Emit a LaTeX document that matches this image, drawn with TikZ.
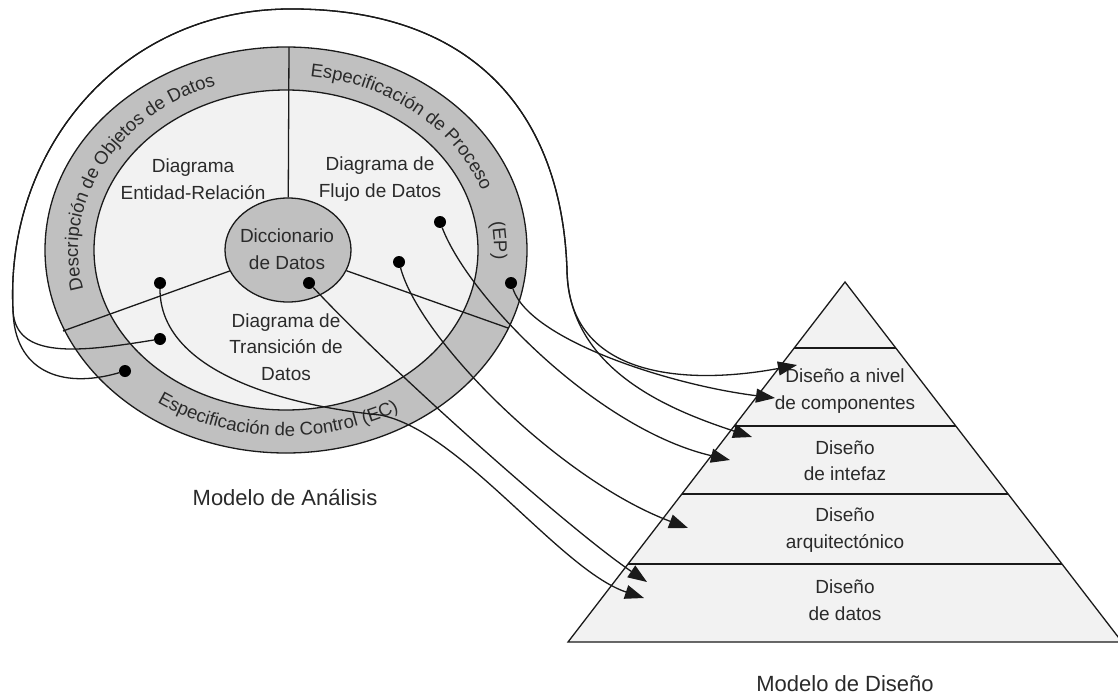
\documentclass[tikz,border=0pt]{standalone}
\usepackage{fontspec}
\setmainfont{Liberation Sans}
\usetikzlibrary{shapes.geometric, arrows.meta, decorations.text, calc}

\definecolor{ringgray}{HTML}{C0C0C0}
\definecolor{paleface}{HTML}{F2F2F2}
\definecolor{inkline}{HTML}{1A1A1A}
\definecolor{inktext}{HTML}{2A2A2A}

\newcommand\arcfont{\fontsize{18.5}{20}\selectfont\color{inktext}}

\begin{document}
\begin{tikzpicture}[x=1pt, y=-1pt,
  outline/.style={draw=inkline, line width=1.3pt},
  wire/.style={draw=inkline, line width=1.3pt},
  txt/.style={text=inktext, font=\fontsize{19}{26.5}\selectfont, align=center, inner sep=0},
  heading/.style={text=inktext, font=\fontsize{22}{26}\selectfont, inner sep=0},
  blob/.style={circle, fill=black, inner sep=0, minimum size=12},
  flow/.style={draw=inkline, line width=1.3pt, -{Triangle[length=19pt, width=14pt]}},
]
\useasboundingbox (0,0) rectangle (1118,695);

% ---------- analysis model: rings ----------
\coordinate (rc) at (286,250);
\draw[outline, fill=ringgray] (rc) ellipse [x radius=241, y radius=203];
\draw[outline, fill=paleface] (rc) ellipse [x radius=192, y radius=160];

\node[ellipse, outline, fill=ringgray, minimum width=126, minimum height=104, inner sep=0] (dict) at (288,250) {};

% sector dividers
\coordinate (rtop) at (289,47);
\coordinate (rleft) at (63,331);
\coordinate (rright) at (508,328);
\draw[wire] (dict) -- (rtop);
\draw[wire] (dict) -- (rleft);
\draw[wire] (dict) -- (rright);

% texts along the ring
\path[decorate, decoration={text along path, text align=center,
    text={|\arcfont|Descripción de Objetos de Datos}}]
  plot[domain=150:265, samples=90] ({286+208*cos(\x)}, {250+175*sin(\x)});
\path[decorate, decoration={text along path, text align=center,
    text={|\arcfont|Especificación de Proceso}}]
  plot[domain=-100:0, samples=90] ({286+208*cos(\x)}, {250+175*sin(\x)});
\path[decorate, decoration={text along path, text align=center,
    text={|\arcfont|(EP)}}]
  plot[domain=-20:14, samples=40] ({286+208*cos(\x)}, {250+175*sin(\x)});
\path[decorate, decoration={text along path, text align=center,
    text={|\arcfont|Especificación de Control (EC)}}]
  plot[domain=-140:-45, samples=90] ({286+224*cos(\x)}, {250-186*sin(\x)});

% sector labels
\node[txt] (er)  at (193,179) {Diagrama\\Entidad-Relación};
\node[txt] (dfd) at (380,179) {Diagrama de\\Flujo de Datos};
\node[txt] (dd)  at (287,249) {Diccionario\\de Datos};
\node[txt] (dte) at (286,347) {Diagrama de\\Transición de\\Datos};
\node[heading] (ma) at (285,498) {Modelo de Análisis};

% ---------- design model: pyramid ----------
\coordinate (apex) at (845,282);
\coordinate (bl) at (568,642);
\coordinate (br) at (1122,642);
\draw[outline, fill=paleface] (apex) -- (bl) -- (br) -- cycle;
\foreach \t in {0.1833,0.4,0.5889,0.7833}
  \draw[wire] ($(apex)!\t!(bl)$) -- ($(apex)!\t!(br)$);

\node[txt] (comp) at (845,391)   {Diseño a nivel\\de componentes};
\node[txt] (intf) at (845,460.5) {Diseño\\de intefaz};
\node[txt] (arq)  at (845,530)   {Diseño\\arquitectónico};
\node[txt] (dat)  at (845,600)   {Diseño\\de datos};
\node[heading] (md) at (845,684) {Modelo de Diseño};

% ---------- mapping connectors ----------
\node[blob] (d1) at (440,222) {};
\node[blob] (d2) at (399,262) {};
\node[blob] (d3) at (511,283) {};
\node[blob] (d4) at (309,283) {};
\node[blob] (d5) at (160,283) {};
\node[blob] (d6) at (160,339) {};
\node[blob] (d7) at (125,371) {};

\coordinate (t1) at (797,365);
\coordinate (t2) at (775,398);
\coordinate (t3) at (752,437);
\coordinate (t4) at (730,460);
\coordinate (t5) at (688,528);
\coordinate (t6) at (647,582);
\coordinate (t7) at (644,598);

% the two long loops round the analysis model
\coordinate (lw) at (13,310);
\coordinate (lt) at (289,9);
\coordinate (lr) at (567,270);

\draw[flow] (d6) .. controls (80,352) and (15,360) .. (lw)
  .. controls (5,150) and (120,10) .. (lt)
  .. controls (480,8) and (562,120) .. (lr)
  .. controls (568,380) and (690,385) .. (t1);
\draw[flow] (d7) .. controls (60,390) and (14,370) .. (lw)
  .. controls (5,150) and (120,10) .. (lt)
  .. controls (480,8) and (562,120) .. (lr)
  .. controls (569,370) and (670,410) .. (t3);

\draw[flow] (d3) .. controls (530,340) and (670,385) .. (t2);
\draw[flow] (d1) .. controls (470,300) and (600,430) .. (t4);
\draw[flow] (d2) .. controls (420,340) and (560,480) .. (t5);
\draw[flow] (d4) .. controls (390,370) and (570,530) .. (t6);
\draw[flow] (d5) .. controls (160,370) and (280,405) .. (380,415)
  .. controls (460,430) and (560,570) .. (t7);

\end{tikzpicture}
\end{document}
